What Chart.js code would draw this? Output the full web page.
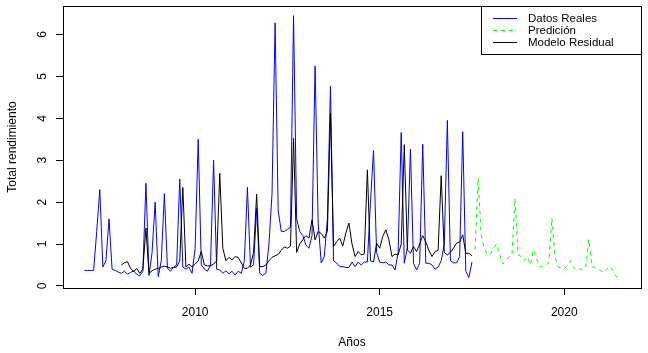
<!DOCTYPE html>
<html>
<head>
<meta charset="utf-8">
<script src="https://cdn.jsdelivr.net/npm/chart.js@4.4.0/dist/chart.umd.min.js"></script>
<style>
  body { margin: 0; background: #fff; }
  canvas { display: block; }
</style>
</head>
<body>
<canvas id="grafico" width="648" height="353"></canvas>
<script>
// Serie mensual observada, desde enero 2007
const inicioReales = [2007, 1];
const datosReales = [
  0.37, 0.37, 0.37, 0.37, 1.3, 2.3, 0.45, 0.6, 1.6, 0.4, 0.37, 0.33,
  0.3, 0.35, 0.28, 0.32, 0.36, 0.28, 0.24, 0.35, 2.45, 0.25, 0.8, 2.0,
  0.22, 0.6, 2.2, 0.42, 0.35, 0.45, 0.5, 2.55, 0.45, 0.4, 0.45, 0.3,
  0.9, 3.5, 0.5, 0.4, 0.35, 0.5, 3.0, 0.4, 0.38, 0.3, 0.36, 0.29,
  0.35, 0.26, 0.35, 0.3, 0.6, 2.35, 0.45, 0.5, 1.85, 0.3, 0.25, 0.3,
  1.0, 2.2, 6.28, 1.8, 1.3, 1.3, 1.35, 1.4, 6.45, 1.6, 1.3, 1.2,
  0.98, 0.9, 1.2, 5.25, 1.5, 0.55, 0.7, 1.6, 4.77, 0.6, 0.55, 0.46,
  0.46, 0.44, 0.44, 0.57, 0.46, 0.57, 0.5, 0.57, 0.57, 2.0, 3.23, 0.8,
  0.57, 0.55, 0.57, 0.5, 0.5, 0.38, 0.8, 3.66, 0.54, 0.9, 3.26, 0.54,
  0.38, 0.54, 3.38, 0.54, 0.54, 0.5, 0.4, 0.45, 0.6, 1.0, 3.95, 0.6,
  0.55, 0.55, 0.7, 3.68, 0.35, 0.2, 0.57
];

// Modelo residual ajustado, desde enero 2008
const inicioResidual = [2008, 1];
const modeloResidual = [
  0.5, 0.55, 0.58, 0.42, 0.34, 0.42, 0.3, 0.4, 1.38, 0.3, 0.36, 0.4,
  0.42, 0.45, 0.47, 0.45, 0.42, 0.44, 0.45, 0.6, 2.35, 0.45, 0.52, 0.45,
  0.52, 0.6, 0.82, 0.5, 0.48, 0.48, 0.52, 0.6, 2.69, 0.9, 0.6, 0.68,
  0.62, 0.7, 0.68, 0.55, 0.42, 0.42, 0.5, 0.8, 2.19, 0.46, 0.46, 0.5,
  0.6, 0.68, 0.72, 0.75, 0.85, 0.93, 0.9, 0.95, 3.52, 0.8, 1.0, 1.1,
  1.2, 1.14, 1.58, 1.1, 1.3, 1.25, 1.14, 1.3, 4.12, 0.94, 1.05, 1.14,
  0.95, 1.26, 1.5, 1.0, 0.7, 0.82, 0.74, 0.76, 2.77, 0.6, 0.57, 1.02,
  0.9, 1.18, 1.34, 1.1, 0.7, 0.76, 0.74, 1.0, 3.37, 0.86, 0.78, 0.94,
  0.82, 1.0, 1.2, 1.05, 0.85, 0.7, 0.82, 0.85, 2.63, 0.8, 0.74, 0.8,
  0.9, 1.02, 1.05, 1.22, 0.78, 0.78, 0.72
];

// Predicción, desde agosto 2017
const inicioPrediccion = [2017, 8];
const prediccion = [
  0.86, 2.57, 1.2, 0.9, 0.75,
  0.75, 0.9, 1.0, 0.75, 0.52, 0.62, 0.68, 0.72, 2.09, 0.75, 0.7, 0.6,
  0.7, 0.5, 0.86, 0.65, 0.45, 0.47, 0.5, 0.55, 1.62, 0.7, 0.45, 0.43,
  0.41, 0.48, 0.6, 0.45, 0.37, 0.41, 0.38, 0.45, 1.11, 0.45, 0.45, 0.41,
  0.35, 0.33, 0.42, 0.47, 0.35, 0.21, 0.24
];

const ticksAnios = [2010, 2015, 2020];
const ticksValores = [0, 1, 2, 3, 4, 5, 6];

const colores = { reales: '#0000ff', prediccion: '#00ff00', residual: '#000000' };

// convierte una serie mensual en puntos {x: año decimal, y}
function serieMensual(inicio, valores) {
  return valores.map((v, k) => ({ x: inicio[0] + (inicio[1] - 1 + k) / 12, y: v }));
}

// entradas de la leyenda, en el orden del gráfico original
const leyenda = [
  { texto: 'Datos Reales', color: colores.reales, guion: false },
  { texto: 'Predición', color: colores.prediccion, guion: true },
  { texto: 'Modelo Residual', color: colores.residual, guion: false }
];

// marco del gráfico y leyenda (estilo R base)
const marcoYLeyenda = {
  id: 'marcoYLeyenda',
  afterDraw(chart) {
    const { ctx, chartArea: a } = chart;
    ctx.save();
    ctx.strokeStyle = '#000';
    ctx.lineWidth = 1;
    ctx.setLineDash([]);
    ctx.strokeRect(a.left + 0.5, a.top + 0.5, a.right - a.left, a.bottom - a.top);

    const bx = 481.5, by = a.top + 0.5, bw = a.right - 481, bh = 48;
    ctx.fillStyle = '#fff';
    ctx.fillRect(bx, by, bw, bh);
    ctx.strokeRect(bx, by, bw, bh);

    ctx.font = "11.5px 'Liberation Sans', Arial, sans-serif";
    ctx.textBaseline = 'middle';
    ctx.textAlign = 'left';
    leyenda.forEach((e, i) => {
      const y = a.top + 12 + i * 12;
      ctx.fillStyle = e.color;
      if (e.guion) {
        for (let x = 493; x < 517; x += 8) ctx.fillRect(x, y, 4, 1);
      } else {
        ctx.fillRect(493, y, 24, 1);
      }
      ctx.fillStyle = '#000';
      ctx.fillText(e.texto, 528, y + 0.5);
    });
    ctx.restore();
  }
};

Chart.defaults.font.family = "'Liberation Sans', Arial, sans-serif";
Chart.defaults.font.size = 12;
Chart.defaults.color = '#000';

new Chart(document.getElementById('grafico'), {
  type: 'line',
  data: {
    datasets: [{
      label: 'Datos Reales',
      data: serieMensual(inicioReales, datosReales),
      borderColor: colores.reales,
      order: 2
    }, {
      label: 'Predición',
      data: serieMensual(inicioPrediccion, prediccion),
      borderColor: colores.prediccion,
      borderDash: [4, 4],
      order: 1
    }, {
      label: 'Modelo Residual',
      data: serieMensual(inicioResidual, modeloResidual),
      borderColor: colores.residual,
      order: 0
    }]
  },
  options: {
    responsive: false,
    animation: false,
    parsing: false,
    elements: {
      line: { borderWidth: 1, tension: 0, fill: false },
      point: { radius: 0, hoverRadius: 0 }
    },
    layout: { padding: { top: 6, right: 7, left: 0, bottom: 0 } },
    plugins: { legend: { display: false }, tooltip: { enabled: false } },
    scales: {
      x: {
        type: 'linear',
        min: 2006.42,
        max: 2022.08,
        afterFit: s => { s.height = 65; s.paddingLeft = 0; s.paddingRight = 0; },
        afterBuildTicks: s => { s.ticks = ticksAnios.map(v => ({ value: v })); },
        border: { display: false },
        grid: { drawOnChartArea: false, drawTicks: true, tickLength: 7, color: '#000' },
        ticks: { padding: 10, maxRotation: 0, callback: v => String(v) },
        title: { display: true, text: 'Años', padding: { top: 0, bottom: 3 } }
      },
      y: {
        type: 'linear',
        min: -0.05,
        max: 6.68,
        afterFit: s => { s.width = 63; s.paddingTop = 0; s.paddingBottom = 0; },
        afterBuildTicks: s => { s.ticks = ticksValores.map(v => ({ value: v })); },
        border: { display: false },
        grid: { drawOnChartArea: false, drawTicks: true, tickLength: 7, color: '#000' },
        ticks: { minRotation: 90, maxRotation: 90, crossAlign: 'center', padding: 10 },
        title: { display: true, text: 'Total rendimiento', padding: { top: 5, bottom: 0 } }
      }
    }
  },
  plugins: [marcoYLeyenda]
});
</script>
</body>
</html>
